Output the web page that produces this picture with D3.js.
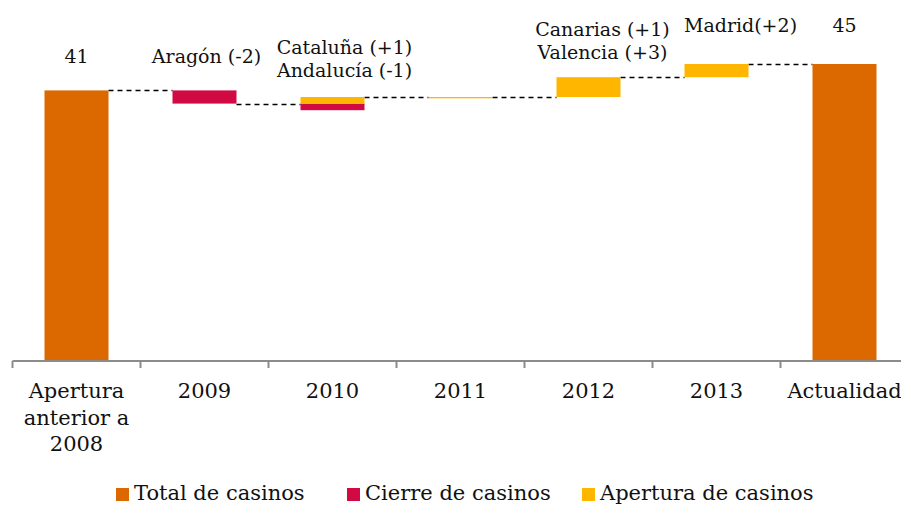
<!DOCTYPE html>
<html>
<head>
<meta charset="utf-8">
<script src="https://cdn.jsdelivr.net/npm/d3@7/dist/d3.min.js"></script>
<style>
  body { margin: 0; background: #fff; }
  svg { display: block; font-family: Georgia, "DejaVu Serif", serif; }
</style>
</head>
<body>
<div id="chart"></div>
<script>
// categorias del eje x (cada elemento = lineas de la etiqueta)
var categories = [["Apertura", "anterior a", "2008"], ["2009"], ["2010"], ["2011"], ["2012"], ["2013"], ["Actualidad"]];

// series (numero de casinos)
var totals   = [41, 0, 0, 0, 0, 0, 45];
var base     = [0, 39, 38, 39.8, 40, 43, 0];   // parte invisible del waterfall
var cierre   = [0, 2, 1, 0, 0, 0, 0];
var apertura = [0, 0, 1, 0.2, 3, 2, 0];

// nivel acumulado tras cada columna (lineas discontinuas)
var levels = [41, 39, 40, 40, 43, 45];

// etiquetas sobre las columnas
var labelCats  = [0, 1, 2, 4, 5, 6];
var labelTexts = [["41"], ["Aragón (-2)"], ["Cataluña (+1)", "Andalucía (-1)"],
                  ["Canarias (+1)", "Valencia (+3)"], ["Madrid(+2)"], ["45"]];
var labelTops  = [41, 41, 40, 43, 45, 45];

var legendItems = [["Total de casinos", "#DC6900"], ["Cierre de casinos", "#D20A44"], ["Apertura de casinos", "#FFB600"]];

var W = 901, H = 506;

var svg = d3.select("#chart").append("svg")
  .attr("width", W)
  .attr("height", H);

var x = d3.scaleBand()
  .domain(d3.range(categories.length))
  .range([12.5, 908.5])
  .paddingInner(0.5)
  .paddingOuter(0.25);

var y = d3.scaleLinear()
  .domain([0, 50])
  .range([361, 31]);

var rows = categories.map(function(c, i) {
  return {total: totals[i], base: base[i], cierre: cierre[i], apertura: apertura[i]};
});

var stack = d3.stack().keys(["total", "base", "cierre", "apertura"]);
var series = stack(rows);
var colors = {total: "#DC6900", base: "none", cierre: "#D20A44", apertura: "#FFB600"};

// conectores
svg.append("g").selectAll("line")
  .data(levels)
  .enter().append("line")
    .attr("x1", function(d, i) { return x(i) + x.bandwidth(); })
    .attr("x2", function(d, i) { return x(i + 1); })
    .attr("y1", function(d) { return Math.round(y(d)) + 0.5; })
    .attr("y2", function(d) { return Math.round(y(d)) + 0.5; })
    .attr("stroke", "#000")
    .attr("stroke-width", 1.3)
    .attr("stroke-dasharray", "5,4");

// barras
svg.append("g").selectAll("g")
  .data(series)
  .enter().append("g")
    .attr("fill", function(s) { return colors[s.key]; })
  .selectAll("rect")
  .data(function(s) { return s.filter(function(d) { return d[1] - d[0] > 0; }); })
  .enter().append("rect")
    .attr("x", function(d) { return x(rows.indexOf(d.data)); })
    .attr("width", x.bandwidth())
    .attr("y", function(d) { return y(d[1]); })
    .attr("height", function(d) { return y(d[0]) - y(d[1]); });

// eje x
var axisG = svg.append("g");
axisG.append("line")
  .attr("x1", x.range()[0]).attr("x2", W)
  .attr("y1", y(0)).attr("y2", y(0))
  .attr("stroke", "#8c8c8c").attr("stroke-width", 2);

axisG.selectAll(".tick")
  .data(d3.range(categories.length + 1))
  .enter().append("line")
    .attr("x1", function(i) { return x.range()[0] + i * x.step(); })
    .attr("x2", function(i) { return x.range()[0] + i * x.step(); })
    .attr("y1", y(0)).attr("y2", y(0) + 7)
    .attr("stroke", "#8c8c8c").attr("stroke-width", 2);

axisG.selectAll("text")
  .data(categories)
  .enter().append("text")
    .attr("text-anchor", "middle")
    .attr("font-size", 21)
    .attr("fill", "#111")
    .each(function(lines, i) {
      var t = d3.select(this);
      lines.forEach(function(l, k) {
        t.append("tspan")
          .attr("x", x(i) + x.bandwidth() / 2)
          .attr("y", y(0) + 37 + k * 26.7)
          .text(l);
      });
    });

// etiquetas de datos
var labelDx = [0, 2, 12, 14, 24, 0];
var labelDy = [-27, -27, -20, -18, -32, -32];

svg.append("g").selectAll("text")
  .data(labelTexts)
  .enter().append("text")
    .attr("text-anchor", "middle")
    .attr("font-size", 19)
    .attr("fill", "#111")
    .each(function(lines, j) {
      var t = d3.select(this);
      var cx = x(labelCats[j]) + x.bandwidth() / 2 + labelDx[j];
      var yLast = y(labelTops[j]) + labelDy[j];
      lines.forEach(function(l, k) {
        t.append("tspan")
          .attr("x", cx)
          .attr("y", yLast - (lines.length - 1 - k) * 23.5)
          .text(l);
      });
    });

// leyenda
var legendX = [116, 347, 582];
var legend = svg.append("g");
legend.selectAll("rect")
  .data(legendItems)
  .enter().append("rect")
    .attr("x", function(d, i) { return legendX[i]; })
    .attr("y", 488)
    .attr("width", 13)
    .attr("height", 13)
    .attr("fill", function(d) { return d[1]; });

legend.selectAll("text")
  .data(legendItems)
  .enter().append("text")
    .attr("x", function(d, i) { return legendX[i] + 18; })
    .attr("y", 500)
    .attr("font-size", 21)
    .attr("fill", "#111")
    .text(function(d) { return d[0]; });
</script>
</body>
</html>
